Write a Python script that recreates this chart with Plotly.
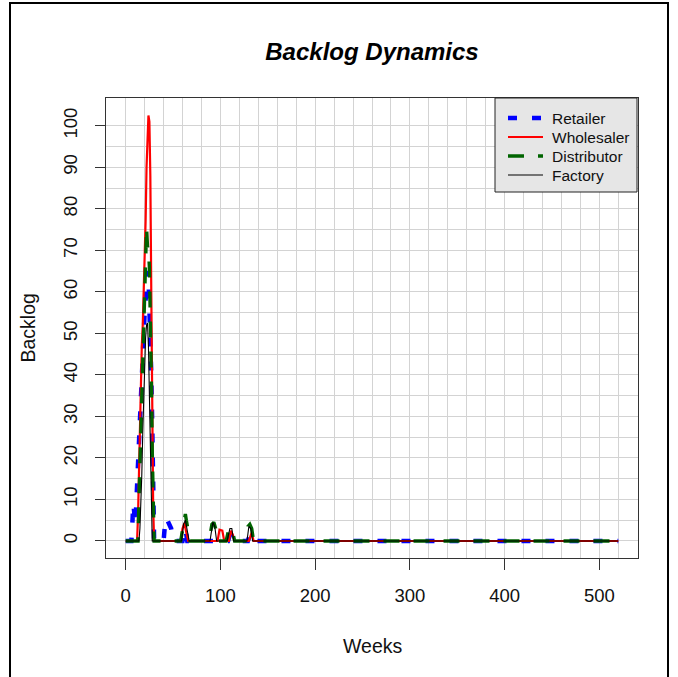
import plotly.graph_objects as go

# ---- data ----
retailer_weeks = [0, 6, 7, 8, 9, 10, 11, 12, 13, 14, 15, 16, 17, 18, 19, 20, 21, 22, 23, 24, 25, 26, 27, 28, 29, 30,
                  40, 42, 44, 46, 48, 50, 60, 63, 65, 108, 110, 112, 129, 131, 133, 520]
retailer_backlog = [0, 0, 4, 9, 7, 4, 8, 14, 20, 26, 31, 36, 42, 47, 52, 55, 58, 62, 65, 64, 58, 50, 40, 28, 12, 0,
                    0, 5.5, 5, 4, 3, 0, 0, 3, 0, 0, 1.5, 0, 0, 1.5, 0, 0]

wholesaler_weeks = [0, 12, 13, 14, 15, 16, 17, 18, 19, 20, 21, 22, 23, 24, 25, 26, 27, 28, 29, 30,
                    58, 60, 62, 64, 66, 97, 99, 102, 104, 109, 111, 113, 115, 130, 133, 135, 520]
wholesaler_backlog = [0, 0, 6, 17, 26, 38, 47, 52, 60, 66, 77, 90, 99, 102.5, 101, 88, 60, 30, 8, 0,
                      0, 3, 4.3, 2, 0, 0, 2.7, 2.5, 0, 0, 2.5, 1.5, 0, 0, 2, 0, 0]

distributor_weeks = [0, 13, 14, 15, 16, 17, 18, 19, 20, 21, 22, 23, 24, 25, 26, 27, 28, 29, 30,
                     58, 60, 62, 63, 64, 66, 68, 88, 91, 93, 95, 97, 106, 109, 111, 113, 115,
                     126, 129, 131, 133, 135, 520]
distributor_backlog = [0, 0, 10, 18, 28, 38, 46, 53, 60, 68, 75.5, 71, 70, 66, 55, 40, 22, 8, 0,
                       0, 3, 6, 6.5, 5, 2, 0, 0, 4, 4.5, 3, 0, 0, 3, 3, 2, 0,
                       0, 3.5, 4, 3, 0, 0]

factory_weeks = [0, 14, 15, 16, 17, 18, 19, 20, 21, 22, 23, 24, 25, 26, 27, 28,
                 59, 61, 63, 65, 67, 89, 92, 94, 96, 107, 110, 112, 114, 128, 130, 132, 134, 520]
factory_backlog = [0, 0, 3, 8, 16, 26, 36, 44, 49, 52, 52.5, 47, 35, 18, 5, 0,
                   0, 4, 5, 2, 0, 0, 4.5, 3.5, 0, 0, 3, 3, 0, 0, 3.5, 3, 0, 0]

series_names = ["Retailer", "Wholesaler", "Distributor", "Factory"]
x_ticks = [0, 100, 200, 300, 400, 500]
y_ticks = [0, 10, 20, 30, 40, 50, 60, 70, 80, 90, 100]

# ---- figure ----
W, H = 678, 677
L, R, T, B = 106, 40, 98, 119
PW, PH = W - L - R, H - T - B


def px_x(px):
    return (px - L) / PW


def px_y(py):
    return (H - B - py) / PH


FONT = "Liberation Sans, Arial, sans-serif"
TXT = "#111111"
styles = [
    ("#0000FF", 4.5, "9px,15px"),
    ("#FF0000", 2.2, "solid"),
    ("#006400", 3.4, "16px,14px"),
    ("#000000", 1.1, "solid"),
]
data = [
    (retailer_weeks, retailer_backlog),
    (wholesaler_weeks, wholesaler_backlog),
    (distributor_weeks, distributor_backlog),
    (factory_weeks, factory_backlog),
]

fig = go.Figure()
for name, (wk, val), (color, width, dash) in zip(series_names, data, styles):
    fig.add_trace(go.Scatter(x=wk, y=val, mode="lines", name=name, showlegend=False,
                             line=dict(color=color, width=width, dash=dash)))

# legend box (drawn like R's legend())
shapes = [
    dict(type="rect", xref="paper", yref="paper", x0=px_x(495), x1=px_x(637), y0=px_y(192), y1=px_y(98),
         fillcolor="#E6E6E6", line=dict(color="#222222", width=1), layer="above"),
]
annotations = []
leg_line_y = [118, 137, 156, 175]
leg_text_y = [119, 137.5, 156.5, 175]
for name, (color, width, dash), ly, ty in zip(series_names, styles, leg_line_y, leg_text_y):
    shapes.append(dict(type="line", xref="paper", yref="paper", x0=px_x(508), x1=px_x(543),
                       y0=px_y(ly), y1=px_y(ly), line=dict(color=color, width=width, dash=dash)))
    annotations.append(dict(text=name, x=px_x(550), y=px_y(ty), xref="paper", yref="paper",
                            showarrow=False, xanchor="left", yanchor="middle",
                            font=dict(size=15.5, family=FONT, color=TXT)))

# outer frame
shapes += [
    dict(type="line", xref="paper", yref="paper", x0=px_x(10), x1=px_x(10), y0=px_y(3), y1=px_y(H + 2),
         line=dict(color="black", width=2)),
    dict(type="line", xref="paper", yref="paper", x0=px_x(9), x1=px_x(669), y0=px_y(3), y1=px_y(3),
         line=dict(color="black", width=2)),
    dict(type="line", xref="paper", yref="paper", x0=px_x(668), x1=px_x(668), y0=px_y(3), y1=px_y(H + 2),
         line=dict(color="black", width=2)),
]

annotations += [
    dict(text="Weeks", x=0.5, y=px_y(646), xref="paper", yref="paper", showarrow=False,
         xanchor="center", yanchor="middle", font=dict(size=19.5, family=FONT, color=TXT)),
    dict(text="Backlog", x=px_x(27.5), y=0.5, xref="paper", yref="paper", showarrow=False,
         textangle=-90, xanchor="center", yanchor="middle", font=dict(size=19.5, family=FONT, color=TXT)),
]

grid = "#D3D3D3"
axis_col = "#333333"
fig.update_layout(
    width=W, height=H,
    margin=dict(l=L, r=R, t=T, b=B),
    paper_bgcolor="white", plot_bgcolor="white",
    font=dict(family=FONT, color=TXT, size=18.5),
    title=dict(text="<b><i>Backlog Dynamics</i></b>", font=dict(size=24, family=FONT, color="#000000"),
               x=0.5, xref="paper", xanchor="center", y=1 - 52 / H, yref="container", yanchor="middle"),
    showlegend=False,
    xaxis=dict(range=[-20.8, 540.8], tickvals=x_ticks, ticks="outside", ticklen=11, tickcolor=axis_col,
               ticklabelstandoff=10,
               showline=True, mirror=True, linecolor=axis_col, linewidth=1, zeroline=False,
               showgrid=True, gridcolor=grid, gridwidth=1,
               minor=dict(tickvals=list(range(0, 521, 20)), showgrid=True, gridcolor=grid, gridwidth=1, ticks=""),
               tickfont=dict(size=18.5)),
    yaxis=dict(range=[-4.1, 106.7], tickvals=y_ticks, ticks="outside", ticklen=10, tickcolor=axis_col,
               tickangle=-90, ticklabelstandoff=11,
               showline=True, mirror=True, linecolor=axis_col, linewidth=1, zeroline=False,
               showgrid=True, gridcolor=grid, gridwidth=1,
               minor=dict(tickvals=list(range(5, 100, 10)), showgrid=True, gridcolor=grid, gridwidth=1, ticks=""),
               tickfont=dict(size=18.5)),
    annotations=annotations,
    shapes=shapes,
)

fig.write_html("out.html", config={"displayModeBar": False},
               post_script="document.body.style.margin='0';")
